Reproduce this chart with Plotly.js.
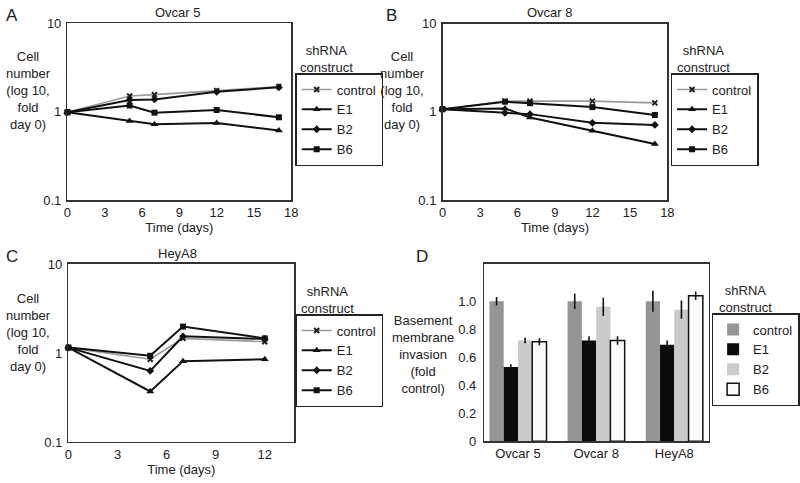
<!DOCTYPE html>
<html>
<head>
<meta charset="utf-8">
<script src="https://cdn.plot.ly/plotly-3.0.1.min.js"></script>
<style>html,body{margin:0;padding:0;background:#fff;}#chart{width:800px;height:483px;}</style>
</head>
<body>
<div id="chart"></div>
<script>
// ---- Data ----
const seriesNames = ['control', 'E1', 'B2', 'B6'];

// Panel A: Ovcar 5 growth (fold day 0)
const daysA = [0, 5, 7, 12, 17];
const ovcar5Control = [0.98, 1.50, 1.55, 1.72, 1.91];
const ovcar5E1      = [0.98, 0.78, 0.72, 0.74, 0.61];
const ovcar5B2      = [0.98, 1.35, 1.37, 1.67, 1.88];
const ovcar5B6      = [0.98, 1.17, 0.97, 1.04, 0.86];

// Panel B: Ovcar 8 growth
const daysB = [0, 5, 7, 12, 17];
const ovcar8Control = [1.07, 1.32, 1.32, 1.32, 1.26];
const ovcar8E1      = [1.07, 1.09, 0.86, 0.61, 0.43];
const ovcar8B2      = [1.07, 0.97, 0.94, 0.75, 0.71];
const ovcar8B6      = [1.07, 1.30, 1.25, 1.13, 0.92];

// Panel C: HeyA8 growth
const daysC = [0, 5, 7, 12];
const heyA8Control = [1.15, 0.85, 1.46, 1.34];
const heyA8E1      = [1.15, 0.37, 0.81, 0.85];
const heyA8B2      = [1.15, 0.63, 1.54, 1.44];
const heyA8B6      = [1.15, 0.93, 1.98, 1.46];

// Panel D: invasion (fold control)
const cellLines = ['Ovcar 5', 'Ovcar 8', 'HeyA8'];
const invControl    = [1.00, 1.00, 1.00];
const invControlErr = [0.03, 0.055, 0.075];
const invE1         = [0.53, 0.72, 0.69];
const invE1Err      = [0.02, 0.03, 0.03];
const invB2         = [0.72, 0.96, 0.94];
const invB2Err      = [0.02, 0.065, 0.065];
const invB6         = [0.71, 0.72, 1.04];
const invB6Err      = [0.025, 0.03, 0.03];

const logTickVals = [0.1, 1, 10];
const logTickText = ['0.1', '1', '10'];
const barTickVals = [0, 0.2, 0.4, 0.6, 0.8, 1.0];
const barTickText = ['0', '0.2', '0.4', '0.6', '0.8', '1.0'];

// ---- Styles ----
const FONT = 'Liberation Sans, Arial, Helvetica, sans-serif';
const lineStyles = {
  control: {line: {color: '#9a9a9a', width: 1.6}, marker: {symbol: 'x-thin', size: 5, color: '#222', line: {color: '#222', width: 2}}},
  E1: {line: {color: '#111', width: 2}, marker: {symbol: 'triangle-up', size: 7, color: '#111'}},
  B2: {line: {color: '#111', width: 2}, marker: {symbol: 'diamond', size: 6, color: '#111'}},
  B6: {line: {color: '#111', width: 2}, marker: {symbol: 'square', size: 6, color: '#111'}}
};

function lineTrace(name, x, y, xa, ya, leg) {
  const s = lineStyles[name];
  return {type: 'scatter', mode: 'lines+markers', name: name, x: x, y: y,
    xaxis: xa, yaxis: ya, legend: leg, line: s.line, marker: s.marker, cliponaxis: false};
}

const traces = [];
const panels = [
  {xa: 'x', ya: 'y', leg: 'legend', x: daysA, ys: [ovcar5Control, ovcar5E1, ovcar5B2, ovcar5B6]},
  {xa: 'x2', ya: 'y2', leg: 'legend2', x: daysB, ys: [ovcar8Control, ovcar8E1, ovcar8B2, ovcar8B6]},
  {xa: 'x3', ya: 'y3', leg: 'legend3', x: daysC, ys: [heyA8Control, heyA8E1, heyA8B2, heyA8B6]}
];
panels.forEach(p => {
  seriesNames.forEach((n, i) => traces.push(lineTrace(n, p.x, p.ys[i], p.xa, p.ya, p.leg)));
});

const barColors = {control: '#959595', E1: '#0b0b0b', B2: '#cbcbcb', B6: '#fbfbfb'};
const barVals = [invControl, invE1, invB2, invB6];
const barErrs = [invControlErr, invE1Err, invB2Err, invB6Err];
seriesNames.forEach((n, i) => {
  traces.push({type: 'bar', name: n, x: cellLines, y: barVals[i], xaxis: 'x4', yaxis: 'y4', legend: 'legend4',
    marker: {color: barColors[n], line: {color: n === 'B6' ? '#111' : barColors[n], width: n === 'B6' ? 1.5 : 0}},
    error_y: {type: 'data', array: barErrs[i], visible: true, color: '#111', thickness: 1.6, width: 0}});
});

const axLine = {showline: true, mirror: true, linecolor: '#333', linewidth: 1.5, showgrid: false, zeroline: false,
  ticks: '', tickfont: {family: FONT, size: 13, color: '#222'}};

function logY(domain) {
  return Object.assign({}, axLine, {type: 'log', range: [-1, 1], domain: domain, tickvals: logTickVals, ticktext: logTickText, ticklabelstandoff: 2});
}
function timeX(domain, range, tickvals, anchor) {
  return Object.assign({}, axLine, {range: range, domain: domain, tickvals: tickvals, anchor: anchor,
    title: {text: 'Time (days)', font: {family: FONT, size: 13, color: '#222'}, standoff: 0}});
}

function legendBox(x, y) {
  return {x: x, y: y, xanchor: 'left', yanchor: 'top', bordercolor: '#222', borderwidth: 1.5, bgcolor: '#fff',
    font: {family: FONT, size: 13, color: '#222'}, itemwidth: 30, tracegroupgap: 0};
}

function ann(text, x, y, size, extra) {
  return Object.assign({text: text, x: x, y: y, xref: 'paper', yref: 'paper', showarrow: false,
    xanchor: 'center', yanchor: 'middle', font: {family: FONT, size: size || 13, color: '#222'}}, extra || {});
}
const H = 483, W = 800;
const px = v => v / W, py = v => 1 - v / H;

const layout = {
  width: 800, height: 483, margin: {l: 0, r: 0, t: 0, b: 0},
  paper_bgcolor: '#fff', plot_bgcolor: '#fff',
  font: {family: FONT, size: 13, color: '#222'},
  barmode: 'group', bargap: 0.27, bargroupgap: 0,
  xaxis: timeX([0.08625, 0.3725], [0, 18], [0, 3, 6, 9, 12, 15, 18], 'y'),
  yaxis: Object.assign(logY([0.58592, 0.95238]), {anchor: 'x'}),
  xaxis2: timeX([0.5659, 0.8534], [0, 18], [0, 3, 6, 9, 12, 15, 18], 'y2'),
  yaxis2: Object.assign(logY([0.58592, 0.9513]), {anchor: 'x2'}),
  xaxis3: timeX([0.0875, 0.37625], [0, 13.8], [0, 3, 6, 9, 12], 'y3'),
  yaxis3: Object.assign(logY([0.08489, 0.45342]), {anchor: 'x3'}),
  xaxis4: Object.assign({}, axLine, {domain: [0.6194, 0.90625], range: [-0.43, 2.44], anchor: 'y4', type: 'category'}),
  yaxis4: Object.assign({}, axLine, {domain: [0.08634, 0.45342], range: [0, 1.266], anchor: 'x4', tickvals: barTickVals, ticktext: barTickText, ticklabelstandoff: 4}),
  legend: legendBox(px(302), py(73)),
  legend2: legendBox(px(686), py(73)),
  legend3: legendBox(px(302), py(314)),
  legend4: legendBox(px(728), py(313)),
  annotations: [
    ann('A', px(12), py(16), 17),
    ann('B', px(400), py(16), 17),
    ann('C', px(12), py(256), 17),
    ann('D', px(432), py(256), 17),
    ann('Ovcar 5', px(182), py(13), 13),
    ann('Ovcar 8', px(563), py(13), 13),
    ann('HeyA8', px(182), py(254), 13),
    ann('Cell<br>number<br>(log 10,<br>fold<br>day 0)', px(29), py(91), 13),
    ann('Cell<br>number<br>(log 10,<br>fold<br>day 0)', px(412), py(91), 13),
    ann('Cell<br>number<br>(log 10,<br>fold<br>day 0)', px(29), py(332), 13),
    ann('Basement<br>membrane<br>invasion<br>(fold<br>control)', px(433), py(354), 13),
    ann('shRNA<br>construct', px(334), py(59), 13),
    ann('shRNA<br>construct', px(720), py(59), 13),
    ann('shRNA<br>construct', px(335), py(300), 13),
    ann('shRNA<br>construct', px(763), py(299), 13)
  ]
};

Plotly.newPlot('chart', traces, layout, {staticPlot: true, displayModeBar: false});
</script>
</body>
</html>
